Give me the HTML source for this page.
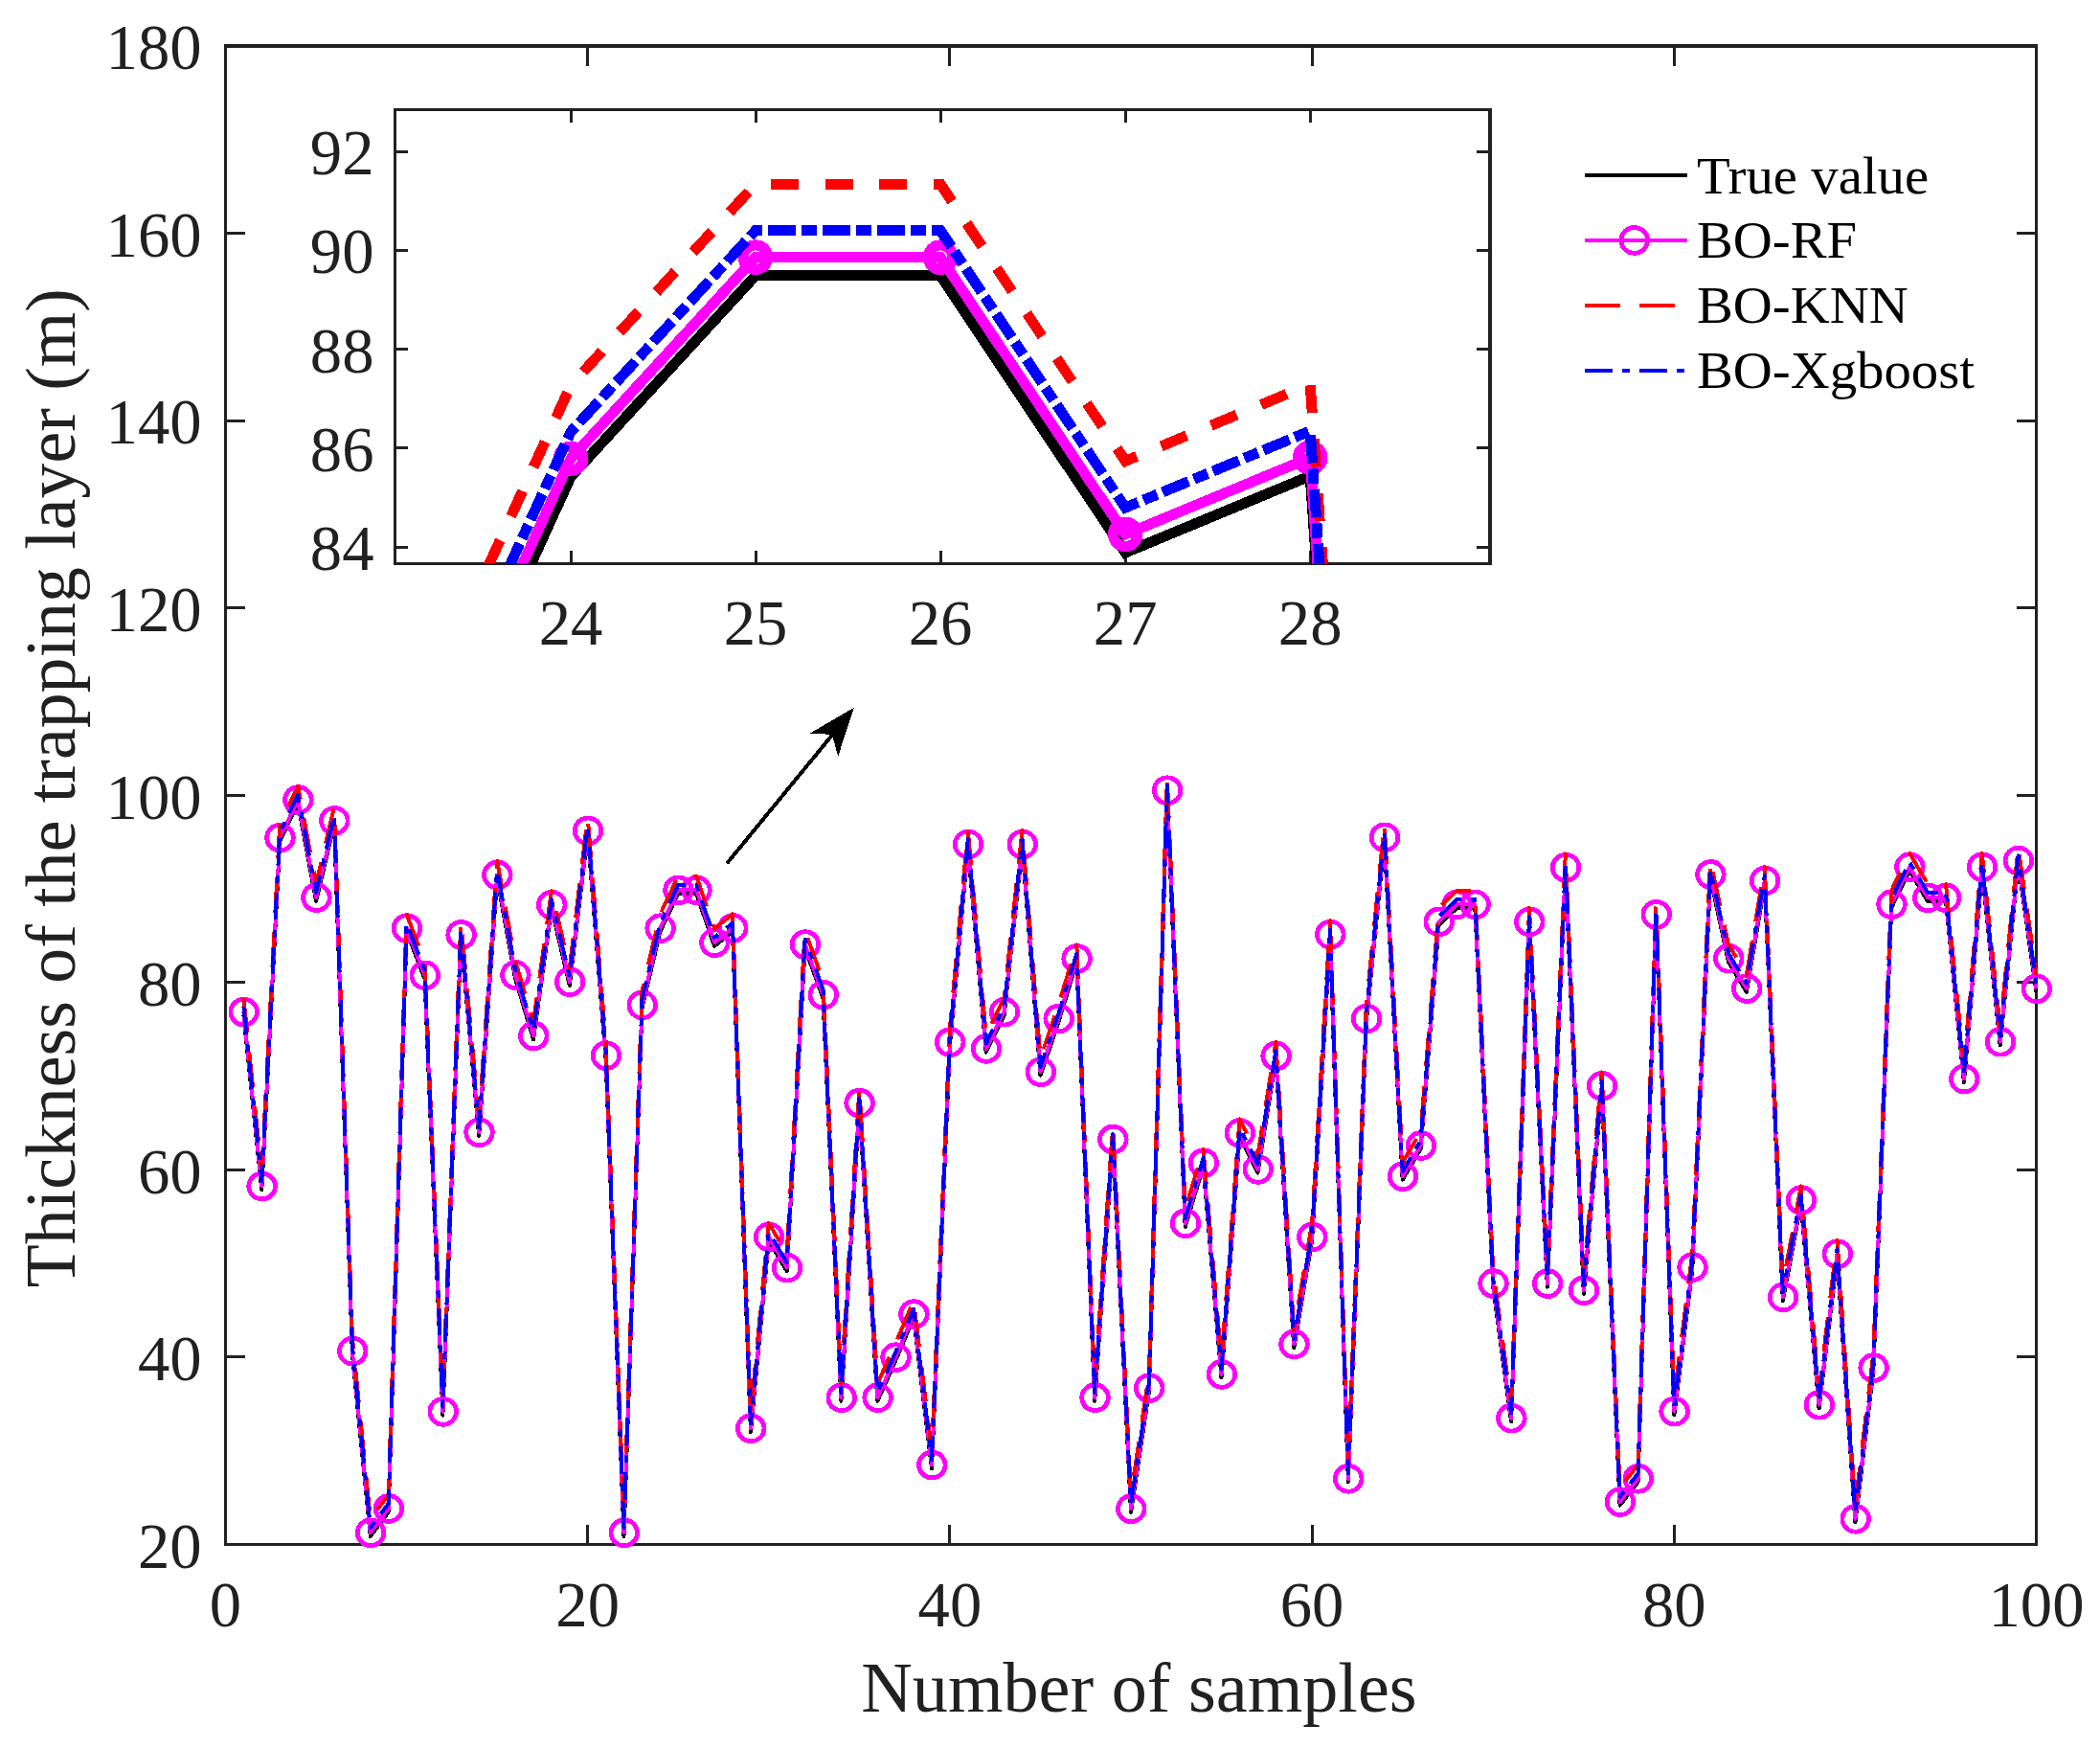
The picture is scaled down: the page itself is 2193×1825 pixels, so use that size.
<!DOCTYPE html>
<html lang="en"><head><meta charset="utf-8"><title>Thickness of the trapping layer</title>
<style>html,body{margin:0;padding:0;background:#fff}svg{display:block}text{font-family:"Liberation Serif","Times New Roman",serif}</style>
</head><body>
<svg width="2193" height="1825" viewBox="0 0 2193 1825">
<rect x="0" y="0" width="2193" height="1825" fill="#ffffff"/>
<defs><clipPath id="ic"><rect x="412.5" y="114.5" width="1143.5" height="474"/></clipPath></defs>
<g fill="#212121" shape-rendering="crispEdges">
<rect x="234" y="46" width="3" height="1568"/>
<rect x="2125" y="46" width="3" height="1568"/>
<rect x="234" y="46" width="1894" height="4"/>
<rect x="234" y="1611" width="1894" height="3"/>
<rect x="237" y="1415" width="19" height="3"/><rect x="2106" y="1415" width="19" height="3"/>
<rect x="237" y="1220" width="19" height="3"/><rect x="2106" y="1220" width="19" height="3"/>
<rect x="237" y="1024" width="19" height="3"/><rect x="2106" y="1024" width="19" height="3"/>
<rect x="237" y="829" width="19" height="3"/><rect x="2106" y="829" width="19" height="3"/>
<rect x="237" y="633" width="19" height="3"/><rect x="2106" y="633" width="19" height="3"/>
<rect x="237" y="438" width="19" height="3"/><rect x="2106" y="438" width="19" height="3"/>
<rect x="237" y="242" width="19" height="3"/><rect x="2106" y="242" width="19" height="3"/>
<rect x="612" y="1592" width="3" height="19"/><rect x="612" y="50" width="3" height="19"/>
<rect x="990" y="1592" width="3" height="19"/><rect x="990" y="50" width="3" height="19"/>
<rect x="1369" y="1592" width="3" height="19"/><rect x="1369" y="50" width="3" height="19"/>
<rect x="1747" y="1592" width="3" height="19"/><rect x="1747" y="50" width="3" height="19"/>
</g>
<g fill="#212121" font-size="66.7">
<text x="210.6" y="1636.8" text-anchor="end">20</text>
<text x="210.6" y="1441.2" text-anchor="end">40</text>
<text x="210.6" y="1245.7" text-anchor="end">60</text>
<text x="210.6" y="1050.1" text-anchor="end">80</text>
<text x="210.6" y="854.5" text-anchor="end">100</text>
<text x="210.6" y="659.0" text-anchor="end">120</text>
<text x="210.6" y="463.4" text-anchor="end">140</text>
<text x="210.6" y="267.9" text-anchor="end">160</text>
<text x="210.6" y="72.3" text-anchor="end">180</text>
<text x="235.5" y="1697.8" text-anchor="middle">0</text>
<text x="613.7" y="1697.8" text-anchor="middle">20</text>
<text x="991.9" y="1697.8" text-anchor="middle">40</text>
<text x="1370.1" y="1697.8" text-anchor="middle">60</text>
<text x="1748.3" y="1697.8" text-anchor="middle">80</text>
<text x="2126.5" y="1697.8" text-anchor="middle">100</text>
</g>
<text x="1189.5" y="1786.7" font-size="74.1" fill="#212121" text-anchor="middle">Number of samples</text>
<text transform="translate(78.1 822.8) rotate(-90)" font-size="73.8" fill="#212121" text-anchor="middle">Thickness of the trapping layer (m)</text>
<g fill="none" stroke-width="4" stroke-linejoin="round" shape-rendering="crispEdges">
<polyline stroke="#000000" points="254.4,1060.2 273.3,1242.1 292.2,878.3 311.1,838.8 330.1,940.7 349.0,860.6 367.9,1414.1 386.8,1603.9 405.7,1578.7 424.6,972.7 443.5,1021.9 462.4,1477.6 481.3,979.6 500.2,1185.9 519.1,917.0 538.1,1021.6 557.0,1085.2 575.9,948.3 594.8,1028.8 613.7,871.0 632.6,1105.7 651.5,1603.9 670.4,1052.9 689.3,972.8 708.2,933.0 727.2,933.0 746.1,987.8 765.0,972.6 783.9,1495.0 802.8,1295.0 821.7,1327.2 840.6,989.7 859.5,1042.3 878.4,1462.8 897.4,1155.2 916.3,1462.8 935.2,1420.8 954.1,1375.7 973.0,1533.1 991.9,1091.7 1010.8,885.1 1029.7,1098.6 1048.6,1060.2 1067.5,885.1 1086.5,1122.8 1105.4,1067.1 1124.3,1004.5 1143.2,1462.8 1162.1,1193.1 1181.0,1578.9 1199.9,1452.8 1218.8,828.8 1237.7,1280.8 1256.6,1218.0 1275.5,1438.5 1294.5,1186.6 1313.4,1224.5 1332.3,1106.0 1351.2,1407.2 1370.1,1295.1 1389.0,979.4 1407.9,1547.4 1426.8,1067.1 1445.7,878.0 1464.7,1231.7 1483.6,1199.6 1502.5,966.0 1521.4,948.0 1540.3,948.0 1559.2,1343.7 1578.1,1484.3 1597.0,966.0 1615.9,1343.7 1634.8,909.4 1653.8,1350.8 1672.7,1137.4 1691.6,1571.7 1710.5,1547.4 1729.4,958.5 1748.3,1477.2 1767.2,1326.6 1786.1,916.6 1805.0,1004.3 1823.9,1035.7 1842.8,923.1 1861.8,1358.0 1880.7,1256.6 1899.6,1470.3 1918.5,1312.8 1937.4,1589.4 1956.3,1431.7 1975.2,947.8 1994.1,908.9 2013.0,941.0 2032.0,941.0 2050.9,1130.1 2069.8,909.0 2088.7,1091.3 2107.6,902.2 2126.5,1035.9"/>
<polyline stroke="#ff00ff" points="254.4,1056.6 273.3,1238.5 292.2,874.6 311.1,835.1 330.1,937.1 349.0,856.9 367.9,1410.5 386.8,1600.3 405.7,1575.0 424.6,969.1 443.5,1018.3 462.4,1473.9 481.3,975.9 500.2,1182.3 519.1,913.4 538.1,1018.0 557.0,1081.5 575.9,944.7 594.8,1025.2 613.7,867.4 632.6,1102.1 651.5,1600.3 670.4,1049.3 689.3,969.2 708.2,929.4 727.2,929.4 746.1,984.2 765.0,969.0 783.9,1491.3 802.8,1291.4 821.7,1323.6 840.6,986.1 859.5,1038.7 878.4,1459.2 897.4,1151.6 916.3,1459.2 935.2,1417.2 954.1,1372.1 973.0,1529.5 991.9,1088.1 1010.8,881.5 1029.7,1094.9 1048.6,1056.6 1067.5,881.5 1086.5,1119.2 1105.4,1063.5 1124.3,1000.9 1143.2,1459.2 1162.1,1189.5 1181.0,1575.2 1199.9,1449.2 1218.8,825.2 1237.7,1277.2 1256.6,1214.3 1275.5,1434.9 1294.5,1182.9 1313.4,1220.9 1332.3,1102.4 1351.2,1403.5 1370.1,1291.5 1389.0,975.7 1407.9,1543.8 1426.8,1063.5 1445.7,874.3 1464.7,1228.1 1483.6,1196.0 1502.5,962.4 1521.4,944.4 1540.3,944.4 1559.2,1340.1 1578.1,1480.7 1597.0,962.4 1615.9,1340.1 1634.8,905.7 1653.8,1347.2 1672.7,1133.8 1691.6,1568.1 1710.5,1543.8 1729.4,954.9 1748.3,1473.6 1767.2,1323.0 1786.1,913.0 1805.0,1000.7 1823.9,1032.1 1842.8,919.5 1861.8,1354.4 1880.7,1253.0 1899.6,1466.7 1918.5,1309.2 1937.4,1585.8 1956.3,1428.1 1975.2,944.2 1994.1,905.2 2013.0,937.4 2032.0,937.4 2050.9,1126.5 2069.8,905.3 2088.7,1087.7 2107.6,898.6 2126.5,1032.3"/>
<g stroke="#ff00ff" stroke-width="4.8">
<ellipse cx="254.7" cy="1056.6" rx="13.8" ry="13.4"/>
<ellipse cx="273.6" cy="1238.5" rx="13.8" ry="13.4"/>
<ellipse cx="292.5" cy="874.6" rx="13.8" ry="13.4"/>
<ellipse cx="311.4" cy="835.1" rx="13.8" ry="13.4"/>
<ellipse cx="330.4" cy="937.1" rx="13.8" ry="13.4"/>
<ellipse cx="349.3" cy="856.9" rx="13.8" ry="13.4"/>
<ellipse cx="368.2" cy="1410.5" rx="13.8" ry="13.4"/>
<ellipse cx="387.1" cy="1600.3" rx="13.8" ry="13.4"/>
<ellipse cx="406.0" cy="1575.0" rx="13.8" ry="13.4"/>
<ellipse cx="424.9" cy="969.1" rx="13.8" ry="13.4"/>
<ellipse cx="443.8" cy="1018.3" rx="13.8" ry="13.4"/>
<ellipse cx="462.7" cy="1473.9" rx="13.8" ry="13.4"/>
<ellipse cx="481.6" cy="975.9" rx="13.8" ry="13.4"/>
<ellipse cx="500.5" cy="1182.3" rx="13.8" ry="13.4"/>
<ellipse cx="519.4" cy="913.4" rx="13.8" ry="13.4"/>
<ellipse cx="538.4" cy="1018.0" rx="13.8" ry="13.4"/>
<ellipse cx="557.3" cy="1081.5" rx="13.8" ry="13.4"/>
<ellipse cx="576.2" cy="944.7" rx="13.8" ry="13.4"/>
<ellipse cx="595.1" cy="1025.2" rx="13.8" ry="13.4"/>
<ellipse cx="614.0" cy="867.4" rx="13.8" ry="13.4"/>
<ellipse cx="632.9" cy="1102.1" rx="13.8" ry="13.4"/>
<ellipse cx="651.8" cy="1600.3" rx="13.8" ry="13.4"/>
<ellipse cx="670.7" cy="1049.3" rx="13.8" ry="13.4"/>
<ellipse cx="689.6" cy="969.2" rx="13.8" ry="13.4"/>
<ellipse cx="708.5" cy="929.4" rx="13.8" ry="13.4"/>
<ellipse cx="727.5" cy="929.4" rx="13.8" ry="13.4"/>
<ellipse cx="746.4" cy="984.2" rx="13.8" ry="13.4"/>
<ellipse cx="765.3" cy="969.0" rx="13.8" ry="13.4"/>
<ellipse cx="784.2" cy="1491.3" rx="13.8" ry="13.4"/>
<ellipse cx="803.1" cy="1291.4" rx="13.8" ry="13.4"/>
<ellipse cx="822.0" cy="1323.6" rx="13.8" ry="13.4"/>
<ellipse cx="840.9" cy="986.1" rx="13.8" ry="13.4"/>
<ellipse cx="859.8" cy="1038.7" rx="13.8" ry="13.4"/>
<ellipse cx="878.7" cy="1459.2" rx="13.8" ry="13.4"/>
<ellipse cx="897.6" cy="1151.6" rx="13.8" ry="13.4"/>
<ellipse cx="916.6" cy="1459.2" rx="13.8" ry="13.4"/>
<ellipse cx="935.5" cy="1417.2" rx="13.8" ry="13.4"/>
<ellipse cx="954.4" cy="1372.1" rx="13.8" ry="13.4"/>
<ellipse cx="973.3" cy="1529.5" rx="13.8" ry="13.4"/>
<ellipse cx="992.2" cy="1088.1" rx="13.8" ry="13.4"/>
<ellipse cx="1011.1" cy="881.5" rx="13.8" ry="13.4"/>
<ellipse cx="1030.0" cy="1094.9" rx="13.8" ry="13.4"/>
<ellipse cx="1048.9" cy="1056.6" rx="13.8" ry="13.4"/>
<ellipse cx="1067.8" cy="881.5" rx="13.8" ry="13.4"/>
<ellipse cx="1086.8" cy="1119.2" rx="13.8" ry="13.4"/>
<ellipse cx="1105.7" cy="1063.5" rx="13.8" ry="13.4"/>
<ellipse cx="1124.6" cy="1000.9" rx="13.8" ry="13.4"/>
<ellipse cx="1143.5" cy="1459.2" rx="13.8" ry="13.4"/>
<ellipse cx="1162.4" cy="1189.5" rx="13.8" ry="13.4"/>
<ellipse cx="1181.3" cy="1575.2" rx="13.8" ry="13.4"/>
<ellipse cx="1200.2" cy="1449.2" rx="13.8" ry="13.4"/>
<ellipse cx="1219.1" cy="825.2" rx="13.8" ry="13.4"/>
<ellipse cx="1238.0" cy="1277.2" rx="13.8" ry="13.4"/>
<ellipse cx="1256.9" cy="1214.3" rx="13.8" ry="13.4"/>
<ellipse cx="1275.8" cy="1434.9" rx="13.8" ry="13.4"/>
<ellipse cx="1294.8" cy="1182.9" rx="13.8" ry="13.4"/>
<ellipse cx="1313.7" cy="1220.9" rx="13.8" ry="13.4"/>
<ellipse cx="1332.6" cy="1102.4" rx="13.8" ry="13.4"/>
<ellipse cx="1351.5" cy="1403.5" rx="13.8" ry="13.4"/>
<ellipse cx="1370.4" cy="1291.5" rx="13.8" ry="13.4"/>
<ellipse cx="1389.3" cy="975.7" rx="13.8" ry="13.4"/>
<ellipse cx="1408.2" cy="1543.8" rx="13.8" ry="13.4"/>
<ellipse cx="1427.1" cy="1063.5" rx="13.8" ry="13.4"/>
<ellipse cx="1446.0" cy="874.3" rx="13.8" ry="13.4"/>
<ellipse cx="1465.0" cy="1228.1" rx="13.8" ry="13.4"/>
<ellipse cx="1483.9" cy="1196.0" rx="13.8" ry="13.4"/>
<ellipse cx="1502.8" cy="962.4" rx="13.8" ry="13.4"/>
<ellipse cx="1521.7" cy="944.4" rx="13.8" ry="13.4"/>
<ellipse cx="1540.6" cy="944.4" rx="13.8" ry="13.4"/>
<ellipse cx="1559.5" cy="1340.1" rx="13.8" ry="13.4"/>
<ellipse cx="1578.4" cy="1480.7" rx="13.8" ry="13.4"/>
<ellipse cx="1597.3" cy="962.4" rx="13.8" ry="13.4"/>
<ellipse cx="1616.2" cy="1340.1" rx="13.8" ry="13.4"/>
<ellipse cx="1635.1" cy="905.7" rx="13.8" ry="13.4"/>
<ellipse cx="1654.0" cy="1347.2" rx="13.8" ry="13.4"/>
<ellipse cx="1673.0" cy="1133.8" rx="13.8" ry="13.4"/>
<ellipse cx="1691.9" cy="1568.1" rx="13.8" ry="13.4"/>
<ellipse cx="1710.8" cy="1543.8" rx="13.8" ry="13.4"/>
<ellipse cx="1729.7" cy="954.9" rx="13.8" ry="13.4"/>
<ellipse cx="1748.6" cy="1473.6" rx="13.8" ry="13.4"/>
<ellipse cx="1767.5" cy="1323.0" rx="13.8" ry="13.4"/>
<ellipse cx="1786.4" cy="913.0" rx="13.8" ry="13.4"/>
<ellipse cx="1805.3" cy="1000.7" rx="13.8" ry="13.4"/>
<ellipse cx="1824.2" cy="1032.1" rx="13.8" ry="13.4"/>
<ellipse cx="1843.1" cy="919.5" rx="13.8" ry="13.4"/>
<ellipse cx="1862.1" cy="1354.4" rx="13.8" ry="13.4"/>
<ellipse cx="1881.0" cy="1253.0" rx="13.8" ry="13.4"/>
<ellipse cx="1899.9" cy="1466.7" rx="13.8" ry="13.4"/>
<ellipse cx="1918.8" cy="1309.2" rx="13.8" ry="13.4"/>
<ellipse cx="1937.7" cy="1585.8" rx="13.8" ry="13.4"/>
<ellipse cx="1956.6" cy="1428.1" rx="13.8" ry="13.4"/>
<ellipse cx="1975.5" cy="944.2" rx="13.8" ry="13.4"/>
<ellipse cx="1994.4" cy="905.2" rx="13.8" ry="13.4"/>
<ellipse cx="2013.3" cy="937.4" rx="13.8" ry="13.4"/>
<ellipse cx="2032.2" cy="937.4" rx="13.8" ry="13.4"/>
<ellipse cx="2051.2" cy="1126.5" rx="13.8" ry="13.4"/>
<ellipse cx="2070.1" cy="905.3" rx="13.8" ry="13.4"/>
<ellipse cx="2089.0" cy="1087.7" rx="13.8" ry="13.4"/>
<ellipse cx="2107.9" cy="898.6" rx="13.8" ry="13.4"/>
<ellipse cx="2126.8" cy="1032.3" rx="13.8" ry="13.4"/>
</g>
<polyline stroke="#ff0000" stroke-dasharray="36.5 20.3" points="254.4,1042.1 273.3,1224.0 292.2,860.2 311.1,820.7 330.1,922.7 349.0,842.5 367.9,1396.0 386.8,1585.8 405.7,1560.6 424.6,954.6 443.5,1003.8 462.4,1459.5 481.3,961.5 500.2,1167.8 519.1,898.9 538.1,1003.5 557.0,1067.1 575.9,930.2 594.8,1010.8 613.7,852.9 632.6,1087.6 651.5,1585.8 670.4,1034.8 689.3,954.7 708.2,914.9 727.2,914.9 746.1,969.7 765.0,954.5 783.9,1476.9 802.8,1276.9 821.7,1309.1 840.6,971.6 859.5,1024.2 878.4,1444.7 897.4,1137.1 916.3,1444.7 935.2,1402.8 954.1,1357.6 973.0,1515.0 991.9,1073.6 1010.8,867.0 1029.7,1080.5 1048.6,1042.1 1067.5,867.0 1086.5,1104.7 1105.4,1049.0 1124.3,986.4 1143.2,1444.7 1162.1,1175.0 1181.0,1560.8 1199.9,1434.7 1218.8,810.7 1237.7,1262.7 1256.6,1199.9 1275.5,1420.5 1294.5,1168.5 1313.4,1206.4 1332.3,1087.9 1351.2,1389.1 1370.1,1277.0 1389.0,961.3 1407.9,1529.3 1426.8,1049.0 1445.7,859.9 1464.7,1213.7 1483.6,1181.5 1502.5,947.9 1521.4,929.9 1540.3,929.9 1559.2,1325.6 1578.1,1466.2 1597.0,947.9 1615.9,1325.6 1634.8,891.3 1653.8,1332.7 1672.7,1119.3 1691.6,1553.6 1710.5,1529.3 1729.4,940.4 1748.3,1459.1 1767.2,1308.5 1786.1,898.5 1805.0,986.2 1823.9,1017.6 1842.8,905.1 1861.8,1339.9 1880.7,1238.5 1899.6,1452.2 1918.5,1294.7 1937.4,1571.3 1956.3,1413.6 1975.2,929.7 1994.1,890.8 2013.0,922.9 2032.0,922.9 2050.9,1112.1 2069.8,890.9 2088.7,1073.2 2107.6,884.1 2126.5,1017.8"/>
<polyline stroke="#0000ff" stroke-dasharray="28.7 10 8 10.3" points="254.4,1051.3 273.3,1233.2 292.2,869.4 311.1,829.9 330.1,931.8 349.0,851.7 367.9,1405.2 386.8,1595.0 405.7,1569.8 424.6,963.8 443.5,1013.0 462.4,1468.7 481.3,970.7 500.2,1177.0 519.1,908.1 538.1,1012.7 557.0,1076.3 575.9,939.4 594.8,1019.9 613.7,862.1 632.6,1096.8 651.5,1595.0 670.4,1044.0 689.3,963.9 708.2,924.1 727.2,924.1 746.1,978.9 765.0,963.7 783.9,1486.1 802.8,1286.1 821.7,1318.3 840.6,980.8 859.5,1033.4 878.4,1453.9 897.4,1146.3 916.3,1453.9 935.2,1412.0 954.1,1366.8 973.0,1524.2 991.9,1082.8 1010.8,876.2 1029.7,1089.7 1048.6,1051.3 1067.5,876.2 1086.5,1113.9 1105.4,1058.2 1124.3,995.6 1143.2,1453.9 1162.1,1184.2 1181.0,1570.0 1199.9,1443.9 1218.8,819.9 1237.7,1271.9 1256.6,1209.1 1275.5,1429.6 1294.5,1177.7 1313.4,1215.6 1332.3,1097.1 1351.2,1398.3 1370.1,1286.2 1389.0,970.5 1407.9,1538.5 1426.8,1058.2 1445.7,869.1 1464.7,1222.8 1483.6,1190.7 1502.5,957.1 1521.4,939.1 1540.3,939.1 1559.2,1334.8 1578.1,1475.4 1597.0,957.1 1615.9,1334.8 1634.8,900.5 1653.8,1341.9 1672.7,1128.5 1691.6,1562.8 1710.5,1538.5 1729.4,949.6 1748.3,1468.3 1767.2,1317.7 1786.1,907.7 1805.0,995.4 1823.9,1026.8 1842.8,914.2 1861.8,1349.1 1880.7,1247.7 1899.6,1461.4 1918.5,1303.9 1937.4,1580.5 1956.3,1422.8 1975.2,938.9 1994.1,900.0 2013.0,932.1 2032.0,932.1 2050.9,1121.2 2069.8,900.1 2088.7,1082.4 2107.6,893.3 2126.5,1027.0"/>
</g>
<rect x="412" y="114" width="1144" height="475" fill="#ffffff"/>
<g fill="#212121" shape-rendering="crispEdges">
<rect x="411" y="113" width="3" height="477"/>
<rect x="1554" y="113" width="4" height="477"/>
<rect x="411" y="113" width="1147" height="3"/>
<rect x="411" y="587" width="1147" height="3"/>
<rect x="414" y="570" width="12" height="3"/><rect x="1542" y="570" width="12" height="3"/>
<rect x="414" y="466" width="12" height="3"/><rect x="1542" y="466" width="12" height="3"/>
<rect x="414" y="363" width="12" height="3"/><rect x="1542" y="363" width="12" height="3"/>
<rect x="414" y="260" width="12" height="3"/><rect x="1542" y="260" width="12" height="3"/>
<rect x="414" y="157" width="12" height="3"/><rect x="1542" y="157" width="12" height="3"/>
<rect x="595" y="575" width="3" height="12"/><rect x="595" y="116" width="3" height="12"/>
<rect x="788" y="575" width="3" height="12"/><rect x="788" y="116" width="3" height="12"/>
<rect x="981" y="575" width="3" height="12"/><rect x="981" y="116" width="3" height="12"/>
<rect x="1174" y="575" width="3" height="12"/><rect x="1174" y="116" width="3" height="12"/>
<rect x="1367" y="575" width="3" height="12"/><rect x="1367" y="116" width="3" height="12"/>
</g>
<g fill="#212121" font-size="66.7">
<text x="390.5" y="595.3" text-anchor="end">84</text>
<text x="390.5" y="492.0" text-anchor="end">86</text>
<text x="390.5" y="388.7" text-anchor="end">88</text>
<text x="390.5" y="285.3" text-anchor="end">90</text>
<text x="390.5" y="182.0" text-anchor="end">92</text>
<text x="596.0" y="673" text-anchor="middle">24</text>
<text x="789.0" y="673" text-anchor="middle">25</text>
<text x="982.1" y="673" text-anchor="middle">26</text>
<text x="1175.2" y="673" text-anchor="middle">27</text>
<text x="1368.2" y="673" text-anchor="middle">28</text>
</g>
<g clip-path="url(#ic)"><g fill="none" stroke-width="11" stroke-linejoin="miter" shape-rendering="crispEdges">
<polyline stroke="#000000" points="402.9,921.0 596.0,497.9 789.0,287.7 982.1,287.7 1175.2,577.0 1368.2,496.9 1561.2,3256.6"/>
<polyline stroke="#ff00ff" points="402.9,901.9 596.0,478.8 789.0,268.6 982.1,268.6 1175.2,557.9 1368.2,477.8 1561.2,3237.5"/>
<g stroke="#ff00ff">
<circle cx="596.0" cy="478.8" r="12.8"/>
<circle cx="789.0" cy="268.6" r="12.8"/>
<circle cx="982.1" cy="268.6" r="12.8"/>
<circle cx="1175.2" cy="557.9" r="12.8"/>
<circle cx="1368.2" cy="477.8" r="12.8"/>
</g>
<polyline stroke="#ff0000" stroke-dasharray="29 27.5" stroke-dashoffset="24.1" points="402.9,825.5 596.0,402.4 789.0,192.1 982.1,192.1 1175.2,481.4 1368.2,401.3 1561.2,3161.0"/>
<polyline stroke="#0000ff" stroke-dasharray="29.5 6 15.5 6" stroke-dashoffset="34.6" points="402.9,874.0 596.0,450.9 789.0,240.7 982.1,240.7 1175.2,530.0 1368.2,449.9 1561.2,3209.6"/>
</g></g>
<g fill="#000000" stroke="none" shape-rendering="crispEdges">
<path d="M760.3 900L869 767.5" stroke="#000000" stroke-width="4" stroke-linecap="round" fill="none"/>
<path d="M891.8 738.8L845.8 765.6L868.9 766.9L875.2 789.6Z"/>
</g>
<g fill="none" stroke-width="4" shape-rendering="crispEdges">
<path stroke="#000000" d="M1655.2 182.5H1761.9"/>
<path stroke="#ff00ff" d="M1655.2 250.9H1761.9"/>
<ellipse stroke="#ff00ff" stroke-width="4.8" cx="1706.7" cy="250.9" rx="13.8" ry="13.4"/>
<path stroke="#ff0000" stroke-dasharray="36.5 20.3" d="M1655.2 318.7H1761.9"/>
<path stroke="#0000ff" stroke-dasharray="28.7 10 8 10.3" d="M1655.2 386.6H1761.9"/>
</g>
<g fill="#000000" font-size="55.4">
<text transform="translate(1771.9 201.8) scale(1.025 1)">True value</text>
<text transform="translate(1771.9 269.2) scale(1.025 1)">BO-RF</text>
<text transform="translate(1771.9 337.0) scale(1.025 1)">BO-KNN</text>
<text transform="translate(1771.9 404.9) scale(1.025 1)">BO-Xgboost</text>
</g>
</svg></body></html>
